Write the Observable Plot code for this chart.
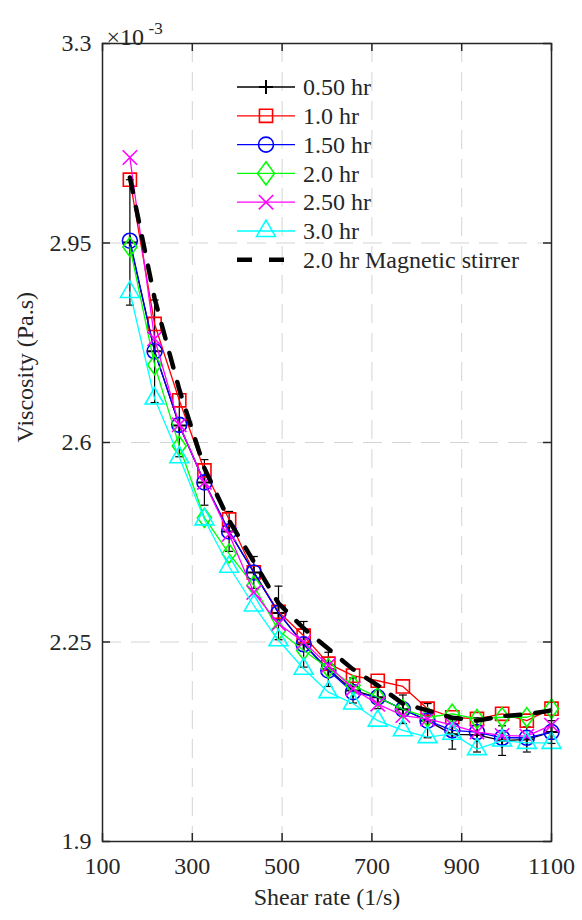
<!DOCTYPE html>
<html><head><meta charset="utf-8">
<script src="https://cdn.jsdelivr.net/npm/d3@7"></script>
<script src="https://cdn.jsdelivr.net/npm/@observablehq/plot@0.6"></script>
<style>
body{margin:0;background:#fff;}
#wrap{position:relative;width:582px;height:920px;}
</style></head><body><div id="wrap"></div>
<script>
// ---- data (viscosity shown in units of 1e-3 Pa.s) ----
const shearRate = [161,216,271,327,382,437,492,548,603,658,713,769,824,879,934,990,1045,1100];
const hr050 = [2.951,2.760,2.630,2.530,2.444,2.372,2.301,2.246,2.202,2.165,2.153,2.132,2.112,2.088,2.087,2.077,2.079,2.092];
const err050 = [0.11,0.09,0.055,0.04,0.035,0.028,0.047,0.04,0.03,0.022,0.02,0.025,0.03,0.026,0.03,0.026,0.022,0.02];
const hr10  = [3.061,2.808,2.674,2.551,2.465,2.372,2.303,2.261,2.212,2.191,2.182,2.172,2.133,2.118,2.115,2.124,2.112,2.133];
const hr150 = [2.954,2.760,2.631,2.530,2.444,2.372,2.301,2.246,2.200,2.162,2.153,2.132,2.112,2.095,2.092,2.082,2.082,2.092];
const hr20  = [2.943,2.736,2.594,2.468,2.405,2.349,2.270,2.235,2.204,2.174,2.153,2.132,2.118,2.124,2.115,2.118,2.118,2.133];
const hr250 = [3.100,2.782,2.631,2.530,2.439,2.337,2.282,2.250,2.209,2.168,2.141,2.121,2.115,2.104,2.092,2.086,2.085,2.104];
const hr30  = [2.864,2.677,2.574,2.465,2.382,2.314,2.253,2.203,2.162,2.142,2.112,2.095,2.083,2.089,2.062,2.077,2.073,2.073];
const magStir = [3.065,2.853,2.693,2.555,2.463,2.391,2.318,2.274,2.238,2.202,2.174,2.142,2.130,2.117,2.112,2.120,2.123,2.130];

const seriesNames = ["0.50 hr","1.0 hr","1.50 hr","2.0 hr","2.50 hr","3.0 hr","2.0 hr Magnetic stirrer"];
const seriesValues = [hr050, hr10, hr150, hr20, hr250, hr30, magStir];
const seriesColors = ["#000000","#ff0000","#0000ff","#00ff00","#ff00ff","#00ffff","#000000"];
const seriesSymbols = ["plus","square","circle","diamond","times","triangle",null];
const seriesR = [4.6,7.4,7.5,7.0,6.6,7.0,0];

const xTicks = [100,300,500,700,900,1100];
const yTicks = [1.9,2.25,2.6,2.95,3.3];
const xGrid = [300,500,700,900];
const yGrid = [2.25,2.6,2.95];

// ---- layout ----
const W = 582, H = 920, mL = 102, mR = 31, mT = 43, mB = 79;
const plotW = W - mL - mR, plotH = H - mT - mB;
const font = "Liberation Serif, serif";
const axisColor = "#262626";
const gridStyle = {stroke:"#d4d4d4", strokeWidth:1, strokeDasharray:"19,10"};
const txt = {fill: axisColor};

// MATLAB-like diamond (wider than d3's), scaled by size
const diamondSym = {draw(ctx, size){
  const k = Math.sqrt(size / (Math.PI * 49));
  const hw = 7.0 * k, hh = 9.6 * k;
  ctx.moveTo(0,-hh); ctx.lineTo(hw,0); ctx.lineTo(0,hh); ctx.lineTo(-hw,0); ctx.closePath();
}};
const capSymbol = {draw(ctx){ ctx.moveTo(-4,0); ctx.lineTo(4,0); }};
const plotSym = s => s === "diamond" ? diamondSym : s;

const rows = (vals) => shearRate.map((x,i)=>({x, y: vals[i]}));
const errRows = shearRate.map((x,i)=>({x, y: hr050[i], lo: hr050[i]-err050[i], hi: hr050[i]+err050[i]}));

const marks = [
  Plot.ruleX(xGrid, gridStyle),
  Plot.ruleY(yGrid, gridStyle),
  // error bars for 0.50 hr
  Plot.ruleX(errRows, {x:"x", y1:"lo", y2:"hi", stroke:"#000", strokeWidth:1.2}),
  Plot.dot(errRows, {x:"x", y:"lo", symbol: capSymbol, r:4, stroke:"#000", strokeWidth:1.2}),
  Plot.dot(errRows, {x:"x", y:"hi", symbol: capSymbol, r:4, stroke:"#000", strokeWidth:1.2}),
];
seriesValues.forEach((vals, k) => {
  const d = rows(vals);
  if (seriesSymbols[k] === null) {
    marks.push(Plot.line(d, {x:"x", y:"y", stroke: seriesColors[k], strokeWidth:4.5, strokeDasharray:"15,15"}));
  } else {
    marks.push(Plot.line(d, {x:"x", y:"y", stroke: seriesColors[k], strokeWidth:1.3}));
    marks.push(Plot.dot(d, {x:"x", y:"y", symbol: plotSym(seriesSymbols[k]), r: seriesR[k], stroke: seriesColors[k], fill:"none", strokeWidth: k===0 ? 2 : 1.6}));
  }
});
marks.push(
  Plot.frame({stroke: axisColor, strokeWidth:1.5}),
  Plot.ruleX(xTicks, {stroke: axisColor, strokeWidth:1.5, insetTop: plotH - 8}),
  Plot.ruleX(xTicks, {stroke: axisColor, strokeWidth:1.5, insetBottom: plotH - 8}),
  Plot.ruleY(yTicks, {stroke: axisColor, strokeWidth:1.5, insetRight: plotW - 8}),
  Plot.ruleY(yTicks, {stroke: axisColor, strokeWidth:1.5, insetLeft: plotW - 8}),
  Plot.axisX(xTicks, {tickSize:0, tickPadding:15, fontSize:24, label:null, tickFormat: d=>String(d), ...txt}),
  Plot.axisY(yTicks, {tickSize:0, tickPadding:11, fontSize:24, label:null, tickFormat: d=>String(d), ...txt}),
  Plot.text(["Shear rate (1/s)"], {frameAnchor:"bottom", dy:63, fontSize:24, ...txt}),
  Plot.text(["Viscosity (Pa.s)"], {frameAnchor:"left", dx:-77, rotate:-90, fontSize:24, ...txt}),
  Plot.text(["×10"], {frameAnchor:"top-left", textAnchor:"start", dx:4, dy:-16, fontSize:24, ...txt}),
  Plot.text(["-3"], {frameAnchor:"top-left", textAnchor:"start", dx:46, dy:-22, fontSize:17, ...txt})
);

const chart = Plot.plot({
  width: W, height: H,
  marginLeft: mL, marginRight: mR, marginTop: mT, marginBottom: mB,
  x: {domain:[100,1100], axis:null},
  y: {domain:[1.9,3.3], axis:null},
  marks
});
document.getElementById("wrap").appendChild(chart);

// ---- legend (inside plot area, transparent background) ----
const svg = d3.select(chart);
const lg = svg.append("g").attr("font-size", 24).attr("text-anchor","start");
const symMap = {plus:d3.symbolPlus, square:d3.symbolSquare, circle:d3.symbolCircle, diamond:diamondSym, times:d3.symbolTimes, triangle:d3.symbolTriangle};
const legendScale = {diamond: 1.45};
seriesNames.forEach((name, k) => {
  const cy = 87 + k * 28.8;
  const g = lg.append("g");
  if (seriesSymbols[k] === null) {
    g.append("line").attr("x1",237).attr("x2",295).attr("y1",cy).attr("y2",cy)
      .attr("stroke",seriesColors[k]).attr("stroke-width",4.5).attr("stroke-dasharray","15,17");
  } else {
    const s = seriesSymbols[k];
    g.append("line").attr("x1",237).attr("x2",295).attr("y1",cy).attr("y2",cy)
      .attr("stroke",seriesColors[k]).attr("stroke-width",1.3);
    g.append("path").attr("transform",`translate(266,${cy})`)
      .attr("d", d3.symbol(symMap[s], Math.PI*seriesR[k]*seriesR[k]*(legendScale[s]||1))())
      .attr("fill","none").attr("stroke",seriesColors[k]).attr("stroke-width", k===0 ? 2 : 1.6);
  }
  g.append("text").attr("x",303).attr("y",cy).attr("dy","0.34em").attr("text-anchor","start").attr("fill",axisColor).text(name);
});
// serif font on every text element (inline style)
svg.attr("font-family", font);
svg.selectAll("text").style("font-family", font);
</script>
</body></html>
